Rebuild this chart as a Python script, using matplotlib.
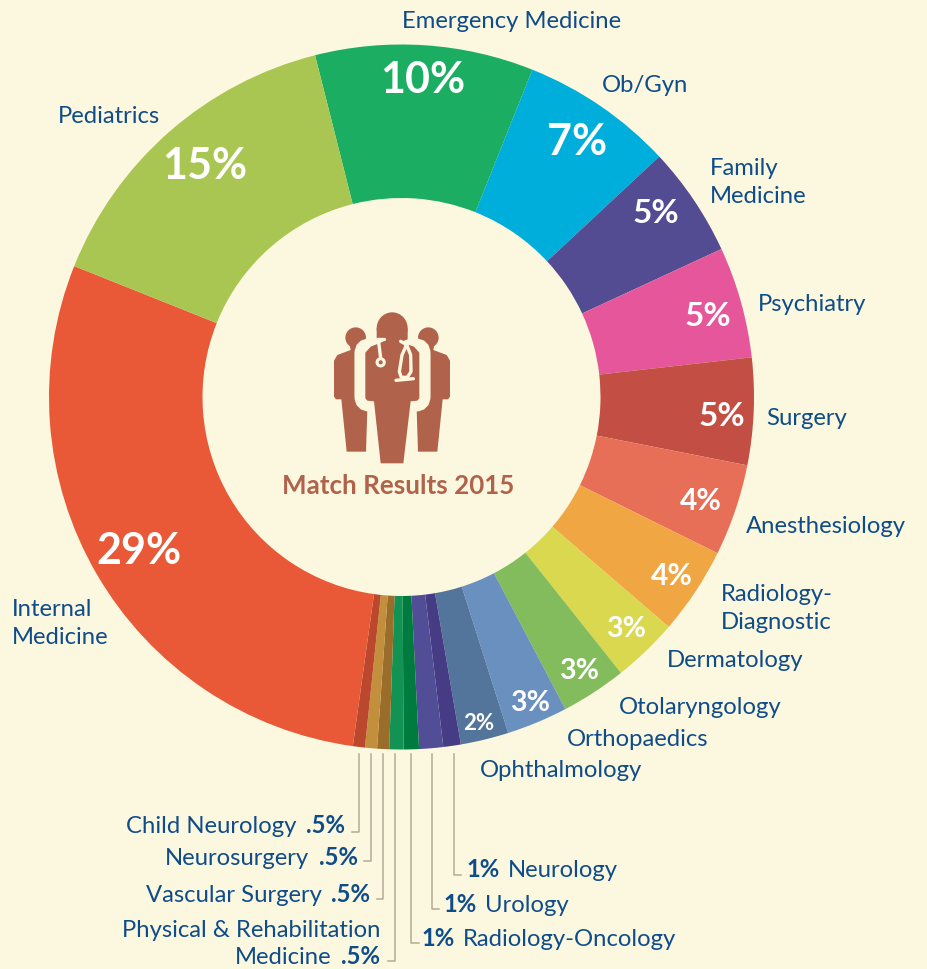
import matplotlib
matplotlib.use("Agg")
import matplotlib.pyplot as plt
from matplotlib.patches import Circle, Ellipse, Polygon, FancyBboxPatch

plt.rcParams['font.family'] = ['Lato', 'DejaVu Sans']

BG = '#FCF8E0'
BLUE = '#0F4C8A'
BROWN = '#B1624A'
LABEL_SIZE = 17.2

# clockwise from the top-left edge of Emergency Medicine
categories = ["Emergency Medicine", "Ob/Gyn", "Family Medicine", "Psychiatry", "Surgery",
              "Anesthesiology", "Radiology-Diagnostic", "Dermatology", "Otolaryngology",
              "Orthopaedics", "Ophthalmology", "Neurology", "Urology", "Radiology-Oncology",
              "Physical & Rehabilitation Medicine", "Vascular Surgery", "Neurosurgery",
              "Child Neurology", "Internal Medicine", "Pediatrics"]
shares = [10.0, 7.0, 5.05, 5.1, 4.9, 4.2, 4.0, 3.0, 3.0, 2.8, 2.2, 0.8, 1.1, 0.7, 0.65,
          0.55, 0.55, 0.55, 28.85, 15.0]
colors = ['#1BAE62', '#00AEDB', '#534C93', '#E5569A', '#C34E44', '#E76F58', '#F0A643',
          '#D9D84E', '#82BC5C', '#6A90BF', '#53759C', '#463C85', '#524D97', '#007B40',
          '#129354', '#9A6D2A', '#C28F3C', '#BB472C', '#E95837', '#A9C653']

# (text, x, y, size)
pct_labels = [("10%", 423, 80, 31), ("7%", 577, 142, 31), ("5%", 656, 213, 24),
              ("5%", 708, 316, 24), ("5%", 722, 416, 24), ("4%", 701, 501, 21.5),
              ("4%", 672, 576, 21.5), ("3%", 626, 629, 20.5), ("3%", 579, 671, 20.5),
              ("3%", 530, 703, 20.5), ("2%", 479, 724, 16), ("15%", 205, 166, 31),
              ("29%", 139, 551, 31)]
# (text, left x, baseline y)
name_labels = [("Emergency Medicine", 402, 28), ("Ob/Gyn", 602, 92), ("Family", 710, 175),
               ("Medicine", 710, 203), ("Psychiatry", 758, 311), ("Surgery", 766, 425),
               ("Anesthesiology", 746, 533), ("Radiology-", 721, 601), ("Diagnostic", 721, 629),
               ("Dermatology", 667, 667), ("Otolaryngology", 619, 714), ("Orthopaedics", 567, 746),
               ("Ophthalmology", 480, 777), ("Pediatrics", 58, 123), ("Internal", 12, 616),
               ("Medicine", 12, 644)]
# small slices: (name, name anchor x, pct text, pct anchor x, baseline y, leader x, elbow y, elbow end x)
left_small = [("Child Neurology", 296, ".5%", 345, 833, 359, 832, 352),
              ("Neurosurgery", 309, ".5%", 358, 865, 371, 861, 364),
              ("Vascular Surgery", 322, ".5%", 370, 902, 383, 899, 377),
              ("Medicine", 332, ".5%", 380, 964, 395, 961, 388)]
right_small = [("Neurology", 508, "1%", 466, 877, 454.5, 875, 461),
               ("Urology", 485, "1%", 443, 912, 432.5, 909, 439),
               ("Radiology-Oncology", 463, "1%", 421, 946, 411, 943, 419)]

fig = plt.figure(figsize=(9.27, 9.69), dpi=100, facecolor=BG)
ax = fig.add_axes([0, 0, 1, 1])

# y axis is flipped further down so angles run clockwise on screen
ax.pie(shares, colors=colors, center=(401.5, 397), radius=352.5, startangle=-104.2,
       counterclock=True, wedgeprops=dict(width=153.5, linewidth=0))
ax.set_xlim(0, 927)
ax.set_ylim(969, 0)
ax.set_aspect('equal')
ax.axis('off')

for txt, x, y, size in pct_labels:
    ax.text(x, y, txt, color='white', fontsize=size, fontweight='bold', ha='center', va='center')

for txt, x, y in name_labels:
    ax.text(x, y, txt, color=BLUE, fontsize=LABEL_SIZE, ha='left', va='baseline')

ax.text(381, 937, "Physical & Rehabilitation", color=BLUE, fontsize=LABEL_SIZE, ha='right', va='baseline')

for name, nx, pct, px, y, lx, ey, ex in left_small:
    ax.text(nx, y, name, color=BLUE, fontsize=LABEL_SIZE, ha='right', va='baseline')
    ax.text(px, y, pct, color=BLUE, fontsize=LABEL_SIZE, fontweight='bold', ha='right', va='baseline')
    ax.plot([lx, lx, ex], [754, ey, ey], color='#B5AB98', lw=1.1)

for name, nx, pct, px, y, lx, ey, ex in right_small:
    ax.text(nx, y, name, color=BLUE, fontsize=LABEL_SIZE, ha='left', va='baseline')
    ax.text(px, y, pct, color=BLUE, fontsize=LABEL_SIZE, fontweight='bold', ha='left', va='baseline')
    ax.plot([lx, lx, ex], [754, ey, ey], color='#B5AB98', lw=1.1)

ax.text(398.5, 494, "Match Results 2015", color=BROWN, fontsize=18.7, fontweight='bold',
        ha='center', va='baseline')


# doctors icon, outlined in the coordinates of a 3x crop starting at (310, 300)
def ix(x):
    return 310 + x / 3


def iy(y):
    return 300 + y / 3


def shape(points, color, z):
    ax.add_patch(Polygon([(ix(a), iy(b)) for a, b in points], closed=True, fc=color, ec='none', zorder=z))


def stroke(points, lw=2.4):
    ax.plot([ix(a) for a, b in points], [iy(b) for a, b in points], color=BG, lw=lw,
            solid_capstyle='round', solid_joinstyle='round', zorder=7)


side_left = [(118, 130), (122, 150), (82, 165), (72, 182), (72, 290), (78, 298), (94, 298), (110, 455),
             (168, 455), (172, 330), (172, 120)]
side_right = [(492 - a, b) for a, b in side_left]
shape(side_left, BROWN, 4)
shape(side_right, BROWN, 4)
ax.add_patch(Circle((ix(137), iy(113)), 10.3, fc=BROWN, ec='none', zorder=4))
ax.add_patch(Circle((ix(355), iy(113)), 10.3, fc=BROWN, ec='none', zorder=4))

# cream halo that separates the middle doctor from the other two
ax.add_patch(FancyBboxPatch((ix(150), iy(132)), 65, 62, boxstyle="round,pad=0,rounding_size=10",
                            fc=BG, ec=BG, lw=8, zorder=5))

body = [(200, 85), (200, 115), (222, 124), (182, 140), (166, 158), (166, 295), (172, 302), (192, 304),
        (212, 490), (280, 490), (302, 304), (322, 302), (328, 295), (328, 158), (312, 140), (272, 126),
        (293, 118), (293, 85)]
shape(body, BROWN, 6)
ax.add_patch(Ellipse((ix(246.5), iy(85)), 31, 32, fc=BROWN, ec='none', zorder=6))

stroke([(204, 118), (222, 118)])
stroke([(205, 118), (212, 175)])
ax.add_patch(Circle((ix(212), iy(187)), 3.6, fc=BROWN, ec=BG, lw=2.2, zorder=7))
stroke([(272, 124), (290, 134), (302, 165), (303, 215), (292, 232), (274, 232), (268, 215),
        (276, 165), (290, 134)])
stroke([(258, 241), (310, 236)])

fig.savefig("out.png", dpi=100, facecolor=BG)
